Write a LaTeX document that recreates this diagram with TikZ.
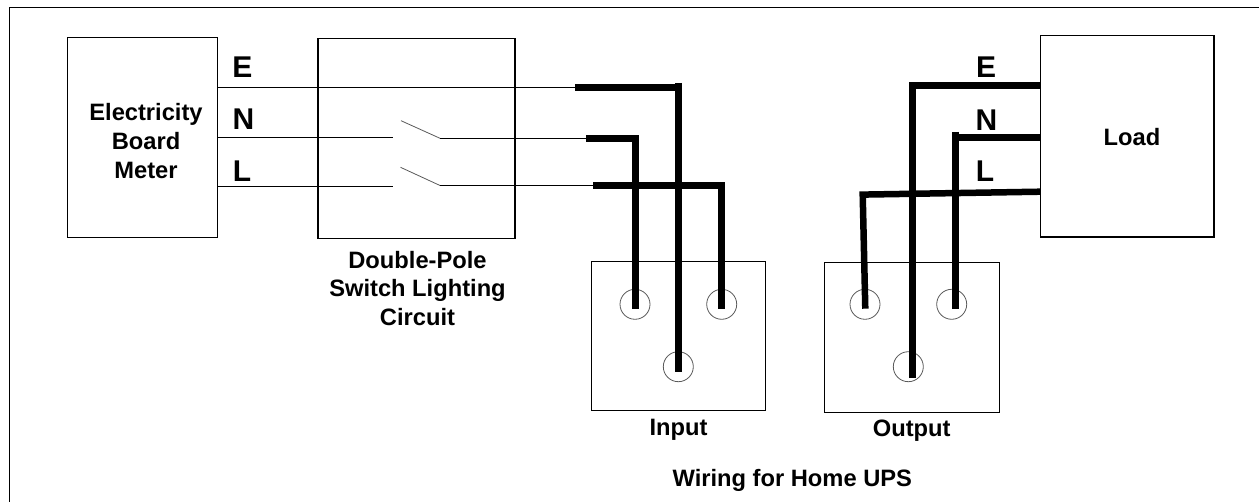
\documentclass[tikz,border=0pt]{standalone}
\usepackage{fontspec}
\setmainfont{Liberation Sans}
\tikzset{
  thin wire/.style={line width=1.1pt,black},
  thick wire/.style={line width=7pt,black,line join=miter},
  boxed/.style={draw,line width=1.2pt,fill=none,inner sep=0pt,outer sep=0pt},
  blade/.style={line width=0.8pt,black!65},
  socket/.style={line width=0.8pt,black!65},
  lab/.style={font=\fontsize{23.7}{28.7}\selectfont\bfseries,align=center,inner sep=0pt},
  pin/.style={font=\fontsize{30}{30}\selectfont\bfseries,inner sep=0pt}
}
\begin{document}
\begin{tikzpicture}[x=1pt,y=-1pt]
\useasboundingbox (0,0) rectangle (1259,502);
\draw[boxed,line width=1.4pt] (9.5,502) -- (9.5,7.5) -- (1259,7.5);
\node[boxed,minimum width=150pt,minimum height=200pt] (meterbox) at (142.5,137.5) {};
\node[boxed,minimum width=197pt,minimum height=200pt] (switchbox) at (416.5,138.5) {};
\node[boxed,minimum width=173.5pt,minimum height=201.5pt] (loadbox) at (1127.3,136.3) {};
\node[boxed,minimum width=173.8pt,minimum height=149.4pt] (inbox) at (678.4,336) {};
\node[boxed,minimum width=174.8pt,minimum height=150pt] (outbox) at (911.7,337.3) {};
\node[lab] (metertxt) at (146,141) {Electricity\\Board\\Meter};
\node[lab] (switchtxt) at (417.5,288.5) {Double-Pole\\Switch Lighting\\Circuit};
\node[lab,anchor=base] (loadtxt) at (1132,145.5) {Load};
\node[lab,anchor=base] (intxt) at (678.5,435.7) {Input};
\node[lab,anchor=base] (outtxt) at (911.7,436.2) {Output};
\node[lab,anchor=base] (title) at (792.3,486) {Wiring for Home UPS};
\node[pin] (e1) at (242.5,67.5) {E};
\node[pin] (n1) at (243.5,119) {N};
\node[pin] (l1) at (242,171) {L};
\node[pin] (e2) at (986,67.5) {E};
\node[pin] (n2) at (986.5,120) {N};
\node[pin] (l2) at (985,171) {L};
\foreach \n/\x/\y in {i1/635/304.3,i2/721.7/304.3,i3/678.3/366.7,o1/865/304.3,o2/951.7/304.3,o3/908.3/366.7}
  \node[socket,draw,circle,minimum size=30pt,inner sep=0pt,outer sep=0pt] (\n) at (\x,\y) {};
% thin wires
\coordinate (ea) at (217.5,87.5); \coordinate (eb) at (575,87.5);
\coordinate (na) at (217.5,137.3); \coordinate (nb) at (393,137.3);
\coordinate (la) at (217.5,186.5); \coordinate (lb) at (393,186.5);
\coordinate (s1a) at (401,120.7); \coordinate (s1b) at (440,138.3); \coordinate (s1c) at (586,138.3);
\coordinate (s2a) at (400.5,167.3); \coordinate (s2b) at (440,185.5); \coordinate (s2c) at (593,185.5);
\draw[thin wire] (ea) -- (eb);
\draw[thin wire] (na) -- (nb);
\draw[thin wire] (la) -- (lb);
\draw[blade] (s1a) -- (s1b);
\draw[blade] (s2a) -- (s2b);
\draw[thin wire] (s1b) -- (s1c);
\draw[thin wire] (s2b) -- (s2c);
% input thick
\coordinate (ie) at (678.5,371.7);
\coordinate (in) at (635.3,308.7);
\coordinate (il) at (721.7,308.7);
\draw[thick wire] (eb) -- (678.5,87.5);
\draw[thick wire] (678.5,83) -- (ie);
\draw[thick wire] (s1c) -- (635.3,138.3) -- (in);
\draw[thick wire] (s2c) -- (721.7,185.5) -- (il);
% output thick
\coordinate (oe) at (912.4,378.3);
\coordinate (on) at (955.3,308.7);
\coordinate (ol) at (865.3,308.7);
\coordinate (le) at (1040.5,85.7);
\coordinate (ln) at (1040.5,137.3);
\coordinate (ll) at (1040.5,191.7);
\draw[thick wire] (le) -- (912.4,85.7) -- (oe);
\draw[thick wire] (ln) -- (955.3,137.3);
\draw[thick wire] (955.3,132) -- (on);
\draw[thick wire,line width=6.5pt] (ll) -- (862.7,194.6) -- (ol);
\end{tikzpicture}
\end{document}
